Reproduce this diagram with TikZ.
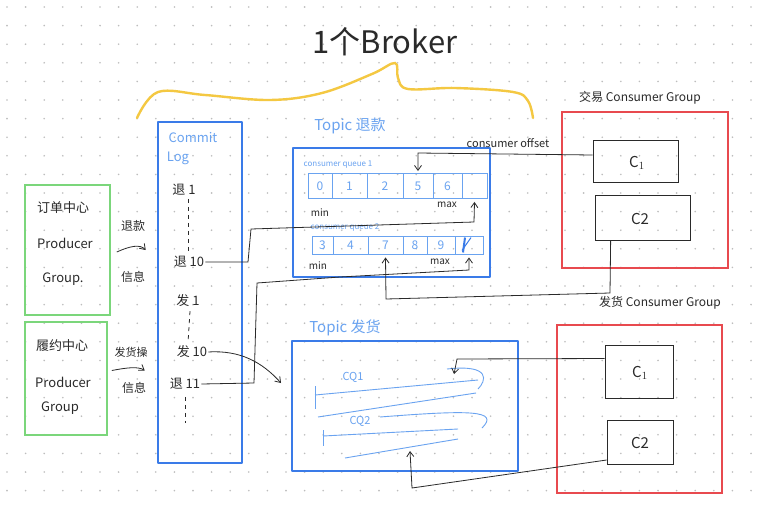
\documentclass[tikz,border=0pt]{standalone}
\usepackage{fontspec}
\setmainfont{Noto Sans CJK SC}
\usetikzlibrary{arrows.meta,calc}
\definecolor{pblue}{HTML}{3A7BE8}
\definecolor{lblue}{HTML}{6AA3F0}
\definecolor{pgreen}{HTML}{7BD67B}
\definecolor{pred}{HTML}{E84A4F}
\definecolor{pyellow}{HTML}{F4C842}
\definecolor{ink}{HTML}{2A2A2A}
\definecolor{dotc}{HTML}{BDBDBD}
\tikzset{
  bluebox/.style={draw=pblue,line width=2.6pt,line join=round},
  greenbox/.style={draw=pgreen,line width=1.6pt},
  redbox/.style={draw=pred,line width=2pt},
  cbox/.style={draw=ink,line width=0.7pt},
  conn/.style={draw=ink,line width=0.8pt,-{Straight Barb[length=5pt,width=7pt]}},
  plainline/.style={draw=ink,line width=0.8pt},
  hand/.style={text=ink,inner sep=1pt},
  bluetxt/.style={text=lblue,inner sep=1pt},
  cell/.style={draw=lblue,line width=0.9pt,inner sep=0pt,text=lblue,font=\fontsize{12}{12}\selectfont},
  qline/.style={draw=lblue,line width=0.9pt},
}
\begin{document}
\begin{tikzpicture}[x=1pt,y=-1pt]
\useasboundingbox (0,0) rectangle (757,506);
\fill[white] (0,0) rectangle (757,506);
\foreach \x in {7,25.6,...,757} \foreach \y in {7,25.6,...,506} \fill[dotc] (\x,\y) circle (0.9);

% title and brace
\node[hand,font=\fontsize{31}{31}\selectfont] (title) at (385,42) {1个Broker};
\draw[pyellow,line width=2.4pt,line cap=round] plot[smooth,tension=0.6] coordinates {(137,118) (158,92) (205,95) (270,100) (322,93) (372,74) (395,63) (398,78) (408,89) (455,88) (513,92) (528,101) (533,118)};

% producer groups
\node[greenbox,minimum width=85pt,minimum height=130pt] (g1) at (67.5,250) {};
\node[hand,font=\fontsize{13}{13}\selectfont] (g1a) at (63,208) {订单中心};
\node[hand,font=\fontsize{13}{13}\selectfont] (g1b) at (65,243) {Producer};
\node[hand,font=\fontsize{13}{13}\selectfont] (g1c) at (63,279) {Group.};
\node[greenbox,minimum width=82pt,minimum height=113pt] (g2) at (66,378.5) {};
\node[hand,font=\fontsize{13}{13}\selectfont] (g2a) at (62,346) {履约中心};
\node[hand,font=\fontsize{13}{13}\selectfont] (g2b) at (63,382) {Producer};
\node[hand,font=\fontsize{13}{13}\selectfont] (g2c) at (60,408) {Group};

% commit log
\node[bluebox,minimum width=84pt,minimum height=341pt] (clog) at (200,292.5) {};
\node[bluetxt,font=\fontsize{13}{13}\selectfont] (clt1) at (193,138) {Commit};
\node[bluetxt,font=\fontsize{13}{13}\selectfont] (clt2) at (178,158) {Log};
\node[hand,font=\fontsize{13}{13}\selectfont] (r1) at (184,190) {退 1};
\node[hand,font=\fontsize{13}{13}\selectfont] (r10) at (189,262) {退 10};
\node[hand,font=\fontsize{13}{13}\selectfont] (f1) at (188,301) {发 1};
\node[hand,font=\fontsize{13}{13}\selectfont] (f10) at (192,352) {发 10};
\node[hand,font=\fontsize{13}{13}\selectfont] (r11) at (185,384) {退 11};
\draw[ink,line width=0.8pt,dash pattern=on 4pt off 4pt] (r1.south) ++(4,2) -- ($(r10.north)+(-1,-2)$);
\draw[ink,line width=0.8pt,dash pattern=on 4pt off 4pt] (f1.south) ++(2,3) -- ($(f10.north)+(-4,-2)$);
\draw[ink,line width=0.8pt,dash pattern=on 4pt off 4pt] (r11.south) ++(0,6) -- ++(0,26);

% producer to commit log arrows
\node[hand,font=\fontsize{12}{12}\selectfont] (l1a) at (133,226) {退款};
\node[hand,font=\fontsize{12}{12}\selectfont] (l1b) at (133,277) {信息};
\draw[conn] ($(g1.east)+(6,2)$) .. controls (130,246) and (140,244) .. ($(g1.east -| clog.west)+(-11,0)$);
\node[hand,font=\fontsize{11}{11}\selectfont] (l2a) at (131,352) {发货操};
\node[hand,font=\fontsize{12}{12}\selectfont] (l2b) at (134,388) {信息};
\draw[conn] ($(g2.east)+(4,-8)$) .. controls (125,368) and (138,366) .. ($(g2.east -| clog.west)+(-12,-8)$);

% Topic refund
\node[bluetxt,font=\fontsize{15}{15}\selectfont] (tat) at (350,126) {Topic 退款};
\node[bluebox,minimum width=197pt,minimum height=129pt] (ta) at (391.5,212.5) {};
\node[bluetxt,font=\fontsize{8}{8}\selectfont] (q1l) at (338,165) {consumer queue 1};
\foreach \a/\b/\t [count=\i from 0] in {308/332/0,332/367/1,367/403/2,403/433/5,433/462/6,462/487/{}} {
  \pgfmathsetmacro\w{\b-\a}
  \node[cell,minimum width=\w pt,minimum height=25pt] (q1c\i) at ({(\a+\b)/2},186) {\t};
}
\node[hand,font=\fontsize{10}{10}\selectfont] (q1min) at (320,213) {min};
\node[hand,font=\fontsize{10}{10}\selectfont] (q1max) at (447,205) {max};
\node[bluetxt,font=\fontsize{8}{8}\selectfont] (q2l) at (345,228) {consumer queue 2};
\foreach \a/\b/\t [count=\i from 0] in {312/333/3,333/368/4,368/403/7,403/427/8,427/455/9,455/483/{}} {
  \pgfmathsetmacro\w{\b-\a}
  \node[cell,minimum width=\w pt,minimum height=18pt] (q2c\i) at ({(\a+\b)/2},245) {\t};
}
\draw[pblue,line width=2pt] ($(q2c5.north)+(-4,2)$) -- ($(q2c5.south)+(-6,-2)$);
\draw[pblue,line width=1pt] ($(q2c5.north)+(2,2)$) -- ($(q2c5.south)+(-7,-4)$);
\node[hand,font=\fontsize{10}{10}\selectfont] (q2min) at (318,266) {min};
\node[hand,font=\fontsize{10}{10}\selectfont] (q2max) at (440,262) {max};

% Topic delivery
\node[bluetxt,font=\fontsize{15}{15}\selectfont] (tbt) at (345,328) {Topic 发货};
\node[bluebox,minimum width=226pt,minimum height=130pt] (tb) at (405,406) {};
\node[bluetxt,font=\fontsize{11}{11}\selectfont] (cq1) at (353,377) {CQ1};
\draw[qline] (315,386) -- (315,409);
\draw[qline] (315,395) -- (478,380);
\draw[qline] (318,417) -- (476,393);
\draw[qline] (447,369) .. controls (492,364) and (486,381) .. (478,389);
\coordinate (cq1end) at (454,374);
\node[bluetxt,font=\fontsize{11}{11}\selectfont] (cq2) at (360,421) {CQ2};
\draw[qline] (323,430) -- (323,446);
\draw[qline] (323,436) -- (458,429);
\draw[qline] (345,458) -- (458,439);
\draw[qline] (380,417) .. controls (470,410) and (500,410) .. (482,428);
\coordinate (cq2end) at (410,451);

% consumer group: trade
\node[hand,font=\fontsize{12}{12}\selectfont] (cgat) at (640,98) {交易 Consumer Group};
\node[redbox,minimum width=166pt,minimum height=156pt] (cga) at (645,190) {};
\node[cbox,minimum width=85pt,minimum height=42pt] (c1a) at (635.5,161) {};
\node[hand,font=\fontsize{15}{15}\selectfont] (c1at) at (637,163) {C$_1$};
\node[cbox,minimum width=95pt,minimum height=45pt] (c2a) at (642.5,217.5) {};
\node[hand,font=\fontsize{15}{15}\selectfont] (c2at) at (640,219) {C2};

% consumer group: delivery
\node[hand,font=\fontsize{12}{12}\selectfont] (cgbt) at (660,303) {发货 Consumer Group};
\node[redbox,minimum width=165pt,minimum height=168pt] (cgb) at (639.5,409) {};
\node[cbox,minimum width=68pt,minimum height=53pt] (c1b) at (639,371.5) {};
\node[hand,font=\fontsize{15}{15}\selectfont] (c1bt) at (640,373) {C$_1$};
\node[cbox,minimum width=66pt,minimum height=44pt] (c2b) at (640,442) {};
\node[hand,font=\fontsize{15}{15}\selectfont] (c2bt) at (640,443) {C2};

% connectors commit log -> queues
\draw[conn] (r10.east) -- (248,262) -- (251,229) -- (474,222) -- ($(q1c5.south)+(0,3)$);
\draw[conn] (r11.east) -- (254,383) -- (257,283) -- (340,277) -- (469,270) -- ($(q2c5.south)+(0,3)$);
\coordinate (fin) at (281,383);
\draw[conn] (f10.east) .. controls (240,350) and (262,362) .. (fin);

% consumers -> queues
\node[hand,font=\fontsize{11}{11}\selectfont] (offl) at (508,143) {consumer offset};
\draw[conn] ($(c1a.west)+(0,-6)$) -- (418,153) -- ($(q1c3.north)+(0,-2)$);
\draw[conn] ($(c2a.south west)+(16,0)$) -- (610,293) -- (386,299) -- ($(q2c2.south)+(0,3)$);
\draw[conn] ($(c1b.west)+(0,-13)$) -- (457,359) -- (cq1end);
\draw[conn] ($(c2b.west)+(0,18)$) -- (412,488) -- (cq2end);
\end{tikzpicture}
\end{document}
